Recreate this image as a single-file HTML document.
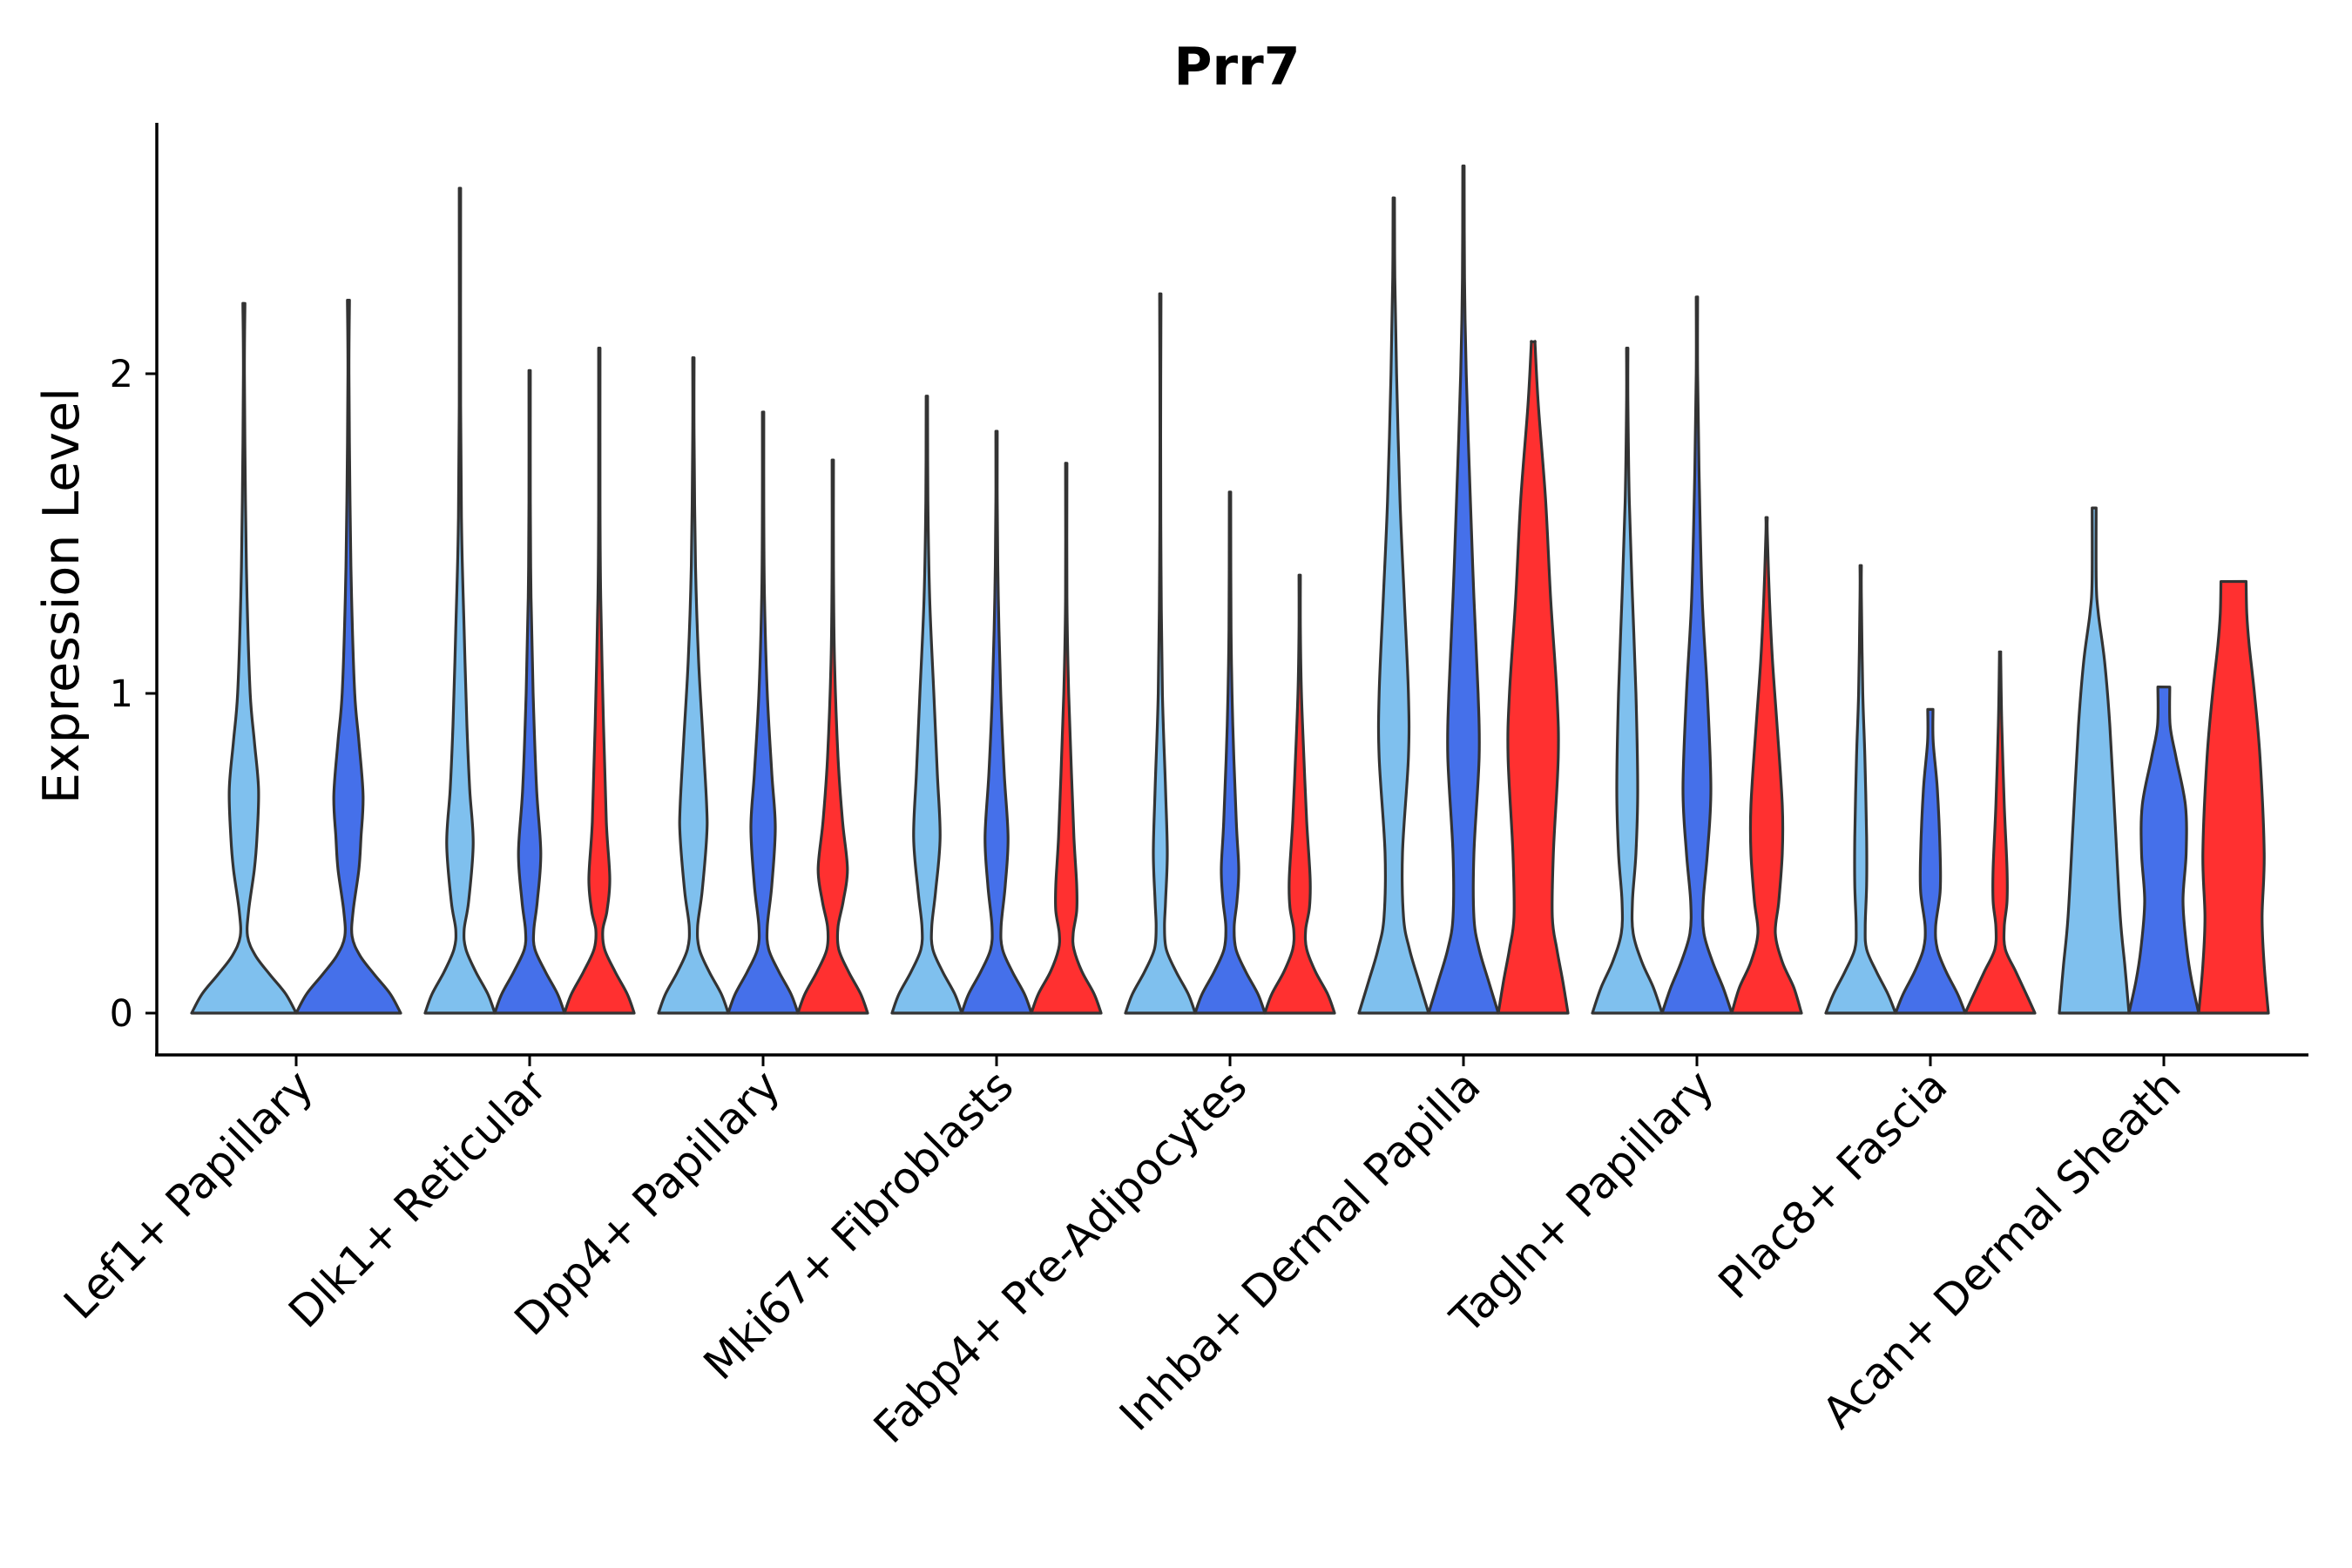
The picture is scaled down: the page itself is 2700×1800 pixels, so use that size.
<!DOCTYPE html>
<html><head><meta charset="utf-8"><style>
html,body{margin:0;padding:0;background:#fff;}
svg{display:block;}
text{font-family:"DejaVu Sans","Liberation Sans",sans-serif;fill:#000;}
</style></head><body>
<svg id="chart" width="2700" height="1800" viewBox="0 0 2700 1800" xmlns="http://www.w3.org/2000/svg">
<text x="1420" y="97" text-anchor="middle" font-size="60" font-weight="bold">Prr7</text>
<text transform="translate(90,684) rotate(-90)" text-anchor="middle" font-size="57">Expression Level</text>
<g id="plot"></g>
</svg>
<script>
const categories = ["Lef1+ Papillary","Dlk1+ Reticular","Dpp4+ Papillary","Mki67+ Fibroblasts","Fabp4+ Pre-Adipocytes","Inhba+ Dermal Papilla","Tagln+ Papillary","Plac8+ Fascia","Acan+ Dermal Sheath"];
const yTicks = [0,1,2];
const seriesColors = ["#7fc0ee","#4570ea","#ff3030"];
const violinTops = [
 [2.22,2.23,null],[2.58,2.01,2.08],[2.05,1.88,1.73],[1.93,1.82,1.72],[2.25,1.63,1.37],
 [2.55,2.65,2.10],[2.08,2.24,1.55],[1.40,0.95,1.13],[1.58,1.02,1.35]];
const violinProfiles = [
 [[[0,1],[0.06,0.8],[0.12,0.5],[0.18,0.22],[0.24,0.07],[0.32,0.09],[0.45,0.2],[0.55,0.25],[0.7,0.28],[0.85,0.2],[1.0,0.12],[1.3,0.06],[1.6,0.03],[2.0,0.01]],
  [[0,1],[0.06,0.8],[0.12,0.5],[0.18,0.22],[0.24,0.07],[0.32,0.09],[0.45,0.2],[0.55,0.24],[0.68,0.28],[0.85,0.2],[1.0,0.12],[1.3,0.06],[1.6,0.03],[2.0,0.01]], null],
 [[[0,1],[0.06,0.8],[0.13,0.45],[0.2,0.17],[0.26,0.12],[0.35,0.25],[0.53,0.38],[0.7,0.28],[0.9,0.2],[1.2,0.12],[1.5,0.05],[1.9,0.02]],
  [[0,1],[0.06,0.8],[0.13,0.45],[0.2,0.15],[0.26,0.12],[0.35,0.22],[0.5,0.32],[0.7,0.2],[1.0,0.1],[1.3,0.04],[1.6,0.02]],
  [[0,1],[0.06,0.8],[0.13,0.45],[0.2,0.15],[0.26,0.1],[0.32,0.22],[0.42,0.3],[0.6,0.2],[0.9,0.12],[1.3,0.04],[1.6,0.02]]],
 [[[0,1],[0.06,0.8],[0.13,0.45],[0.2,0.17],[0.27,0.12],[0.38,0.25],[0.55,0.38],[0.65,0.38],[0.85,0.28],[1.1,0.15],[1.4,0.06],[1.8,0.02]],
  [[0,1],[0.06,0.8],[0.13,0.45],[0.2,0.16],[0.27,0.12],[0.4,0.25],[0.58,0.35],[0.75,0.25],[1.0,0.12],[1.3,0.04],[1.6,0.02]],
  [[0,1],[0.06,0.8],[0.13,0.45],[0.2,0.17],[0.27,0.15],[0.35,0.3],[0.45,0.42],[0.6,0.28],[0.8,0.15],[1.1,0.05],[1.4,0.02]]],
 [[[0,1],[0.06,0.8],[0.13,0.45],[0.2,0.17],[0.27,0.14],[0.38,0.25],[0.55,0.38],[0.75,0.3],[1.0,0.2],[1.3,0.08],[1.6,0.03]],
  [[0,1],[0.06,0.8],[0.13,0.45],[0.2,0.17],[0.27,0.13],[0.4,0.25],[0.55,0.33],[0.75,0.22],[1.0,0.12],[1.3,0.05],[1.6,0.02]],
  [[0,1],[0.06,0.8],[0.13,0.45],[0.2,0.22],[0.25,0.2],[0.32,0.3],[0.4,0.3],[0.55,0.22],[0.75,0.15],[1.0,0.07],[1.3,0.02]]],
 [[[0,1],[0.06,0.8],[0.13,0.45],[0.2,0.17],[0.27,0.12],[0.35,0.15],[0.5,0.2],[0.7,0.15],[1.0,0.06],[1.4,0.02],[1.8,0.01]],
  [[0,1],[0.06,0.8],[0.13,0.45],[0.2,0.17],[0.27,0.12],[0.35,0.2],[0.45,0.25],[0.6,0.18],[0.9,0.08],[1.2,0.03]],
  [[0,1],[0.06,0.8],[0.13,0.45],[0.2,0.2],[0.26,0.17],[0.33,0.28],[0.42,0.3],[0.6,0.2],[0.8,0.12],[1.0,0.05],[1.2,0.02]]],
 [[[0,1],[0.1,0.72],[0.2,0.45],[0.3,0.28],[0.5,0.25],[0.8,0.42],[1.0,0.42],[1.3,0.3],[1.6,0.18],[2.0,0.08],[2.3,0.03]],
  [[0,1],[0.1,0.72],[0.2,0.45],[0.3,0.3],[0.5,0.3],[0.8,0.45],[1.0,0.42],[1.3,0.3],[1.6,0.2],[2.0,0.08],[2.3,0.03]],
  [[0,1],[0.1,0.85],[0.2,0.68],[0.3,0.55],[0.5,0.58],[0.8,0.72],[1.0,0.68],[1.3,0.5],[1.6,0.36],[1.9,0.15],[2.08,0.06]]],
 [[[0,1],[0.08,0.75],[0.16,0.42],[0.25,0.17],[0.35,0.15],[0.5,0.25],[0.7,0.3],[1.0,0.25],[1.3,0.15],[1.6,0.06],[1.9,0.02]],
  [[0,1],[0.08,0.75],[0.16,0.45],[0.25,0.2],[0.35,0.18],[0.5,0.3],[0.7,0.4],[1.0,0.3],[1.3,0.15],[1.7,0.06],[2.0,0.02]],
  [[0,1],[0.08,0.78],[0.16,0.45],[0.25,0.25],[0.35,0.35],[0.5,0.45],[0.65,0.45],[0.9,0.3],[1.1,0.17],[1.3,0.08],[1.5,0.02]]],
 [[[0,1],[0.06,0.78],[0.13,0.45],[0.2,0.17],[0.27,0.13],[0.4,0.17],[0.55,0.17],[0.8,0.12],[1.0,0.06],[1.3,0.02]],
  [[0,1],[0.06,0.78],[0.13,0.45],[0.2,0.2],[0.27,0.15],[0.38,0.28],[0.5,0.28],[0.7,0.2],[0.85,0.08]],
  [[0,1],[0.06,0.75],[0.13,0.45],[0.2,0.15],[0.27,0.12],[0.35,0.2],[0.45,0.2],[0.65,0.12],[0.9,0.05],[1.1,0.02]]],
 [[[0,1],[0.15,0.88],[0.3,0.75],[0.6,0.6],[0.9,0.45],[1.1,0.3],[1.25,0.12],[1.35,0.06],[1.58,0.06]],
  [[0,1],[0.1,0.8],[0.2,0.66],[0.35,0.55],[0.5,0.64],[0.65,0.62],[0.8,0.35],[0.9,0.18],[1.02,0.14]],
  [[0,1],[0.15,0.88],[0.3,0.82],[0.5,0.88],[0.8,0.76],[1.0,0.6],[1.15,0.45],[1.25,0.38],[1.35,0.32]]]
];
const X0 = 340, XSTEP = 268, Y0 = 1163, YPX = 367;
function xScale(i){ return X0 + XSTEP*i; }
function yScale(v){ return Y0 - v*YPX; }
const NS = "http://www.w3.org/2000/svg";
const plot = document.getElementById('plot');
function mk(tag, attrs){ const e=document.createElementNS(NS,tag); for(const k in attrs) e.setAttribute(k,attrs[k]); plot.appendChild(e); return e; }
function smoothSide(pts){
  let d = "";
  for(let i=0;i<pts.length-1;i++){
    const p0=pts[Math.max(0,i-1)],p1=pts[i],p2=pts[i+1],p3=pts[Math.min(pts.length-1,i+2)];
    const c1=[p1[0]+(p2[0]-p0[0])/6,p1[1]+(p2[1]-p0[1])/6];
    const c2=[p2[0]-(p3[0]-p1[0])/6,p2[1]-(p3[1]-p1[1])/6];
    d += ` C${c1[0].toFixed(1)},${c1[1].toFixed(1)} ${c2[0].toFixed(1)},${c2[1].toFixed(1)} ${p2[0].toFixed(1)},${p2[1].toFixed(1)}`;
  }
  return d;
}
categories.forEach((cat,g)=>{
  const n = g===0 ? 2 : 3;
  const hw = g===0 ? 60 : 40;
  const off = g===0 ? [-60,60] : [-80,0,80];
  for(let s=0;s<n;s++){
    const top = violinTops[g][s];
    const prof = violinProfiles[g][s];
    const cx = xScale(g) + off[s];
    const last = prof.filter(p=>p[0]<top);
    const pts = last.concat([[top, Math.max(0.02, last[last.length-1][1]*(last[last.length-1][1]>0.05?0.95:0.5))]]);
    const right = pts.map(p=>[cx + p[1]*hw, yScale(p[0])]);
    const left = pts.slice().reverse().map(p=>[cx - p[1]*hw, yScale(p[0])]);
    let d = `M${right[0][0]},${right[0][1]}` + smoothSide(right) + ` L${left[0][0]},${left[0][1]}` + smoothSide(left) + " Z";
    const path = mk('path',{d:d, fill:seriesColors[s], stroke:"#333", "stroke-width":3.2, "stroke-linejoin":"round"});
    
    
  }
  const tx = xScale(g);
  const tk = mk('line',{x1:tx,y1:1211,x2:tx,y2:1224,stroke:"#000","stroke-width":3});
  
  
  const lb = mk('text',{transform:`translate(${tx+22},1250) rotate(-45)`, "text-anchor":"end", "font-size":50});
  lb.textContent = cat;
  
  
});
yTicks.forEach(v=>{
  const y = yScale(v);
  const t = mk('line',{x1:167,y1:y,x2:180,y2:y,stroke:"#000","stroke-width":3});
  
  
  const l = mk('text',{x:153,y:y+15,"text-anchor":"end","font-size":43});
  l.textContent = String(v);
  
  
});
const ya = mk('line',{x1:180,y1:141,x2:180,y2:1212,stroke:"#000","stroke-width":3.5});


const xa = mk('line',{x1:178,y1:1211,x2:2650,y2:1211,stroke:"#000","stroke-width":3.5});


</script>
</body></html>
